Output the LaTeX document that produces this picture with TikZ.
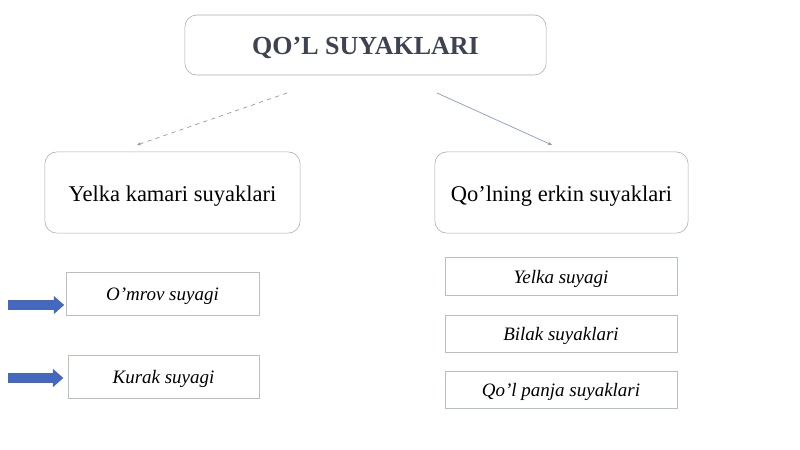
\documentclass[tikz,border=0pt]{standalone}
\usepackage{fontspec}
\setmainfont{Liberation Serif}
\usetikzlibrary{arrows.meta}
\definecolor{titlegray}{HTML}{3E4351}
\definecolor{boxline}{HTML}{ABABAB}
\definecolor{cellline}{HTML}{B7C3B9}
\definecolor{linkblue}{HTML}{8C98C4}
\definecolor{pointblue}{HTML}{4468C0}
\tikzset{
  group/.style={draw=boxline, rounded corners=0.3cm, inner sep=0pt, fill=white,
    text height=12.8pt, text depth=0pt},
  cell/.style={draw=cellline, inner sep=0pt, text height=10.4pt, text depth=0pt,
    font=\fontsize{13.5}{16}\selectfont\itshape},
  link/.style={draw=linkblue, line width=0.5pt, -{Stealth[length=3pt,width=2.5pt]}},
  pointer/.style={draw=pointblue, line width=0.26cm, -{Triangle[length=0.26cm,width=0.44cm]}}
}
\begin{document}
\begin{tikzpicture}[x=0.025cm, y=-0.025cm]
  \useasboundingbox (0,0) rectangle (800,449);
  \draw
    (365.5,45) node[group, minimum width=9.03cm, minimum height=1.5cm, text height=14.2pt,
      font=\fontsize{18.5}{22}\selectfont\bfseries, text=titlegray] (top){QO’L SUYAKLARI}
    (172.5,192.5) node[group, minimum width=6.38cm, minimum height=2.03cm,
      font=\fontsize{16}{19}\selectfont] (shoulder){Yelka kamari suyaklari}
    (561.5,192.5) node[group, minimum width=6.33cm, minimum height=2.03cm,
      font=\fontsize{16}{19}\selectfont] (free){Qo’lning erkin suyaklari}
    (162.5,293.5) node[cell, minimum width=4.83cm, minimum height=1.08cm] (collar){O’mrov suyagi}
    (163.5,376.5) node[cell, minimum width=4.78cm, minimum height=1.08cm] (blade){Kurak suyagi}
    (561,276) node[cell, minimum width=5.8cm, minimum height=0.95cm] (humerus){Yelka suyagi}
    (561,333.5) node[cell, minimum width=5.8cm, minimum height=0.93cm] (forearm){Bilak suyaklari}
    (561,389.5) node[cell, minimum width=5.8cm, minimum height=0.93cm] (hand){Qo’l panja suyaklari};
  \coordinate (ls) at (287,93);
  \coordinate (le) at (137,145);
  \coordinate (rs) at (437,93);
  \coordinate (re) at (552,145);
  \coordinate (p1) at (8,305);
  \coordinate (p2) at (8,378);
  \begin{scope}
    \draw[link, dashed] (ls) to (le);
    \draw[link] (rs) to (re);
    \draw[pointer, shorten >=1pt] (p1) to (collar.west |- p1);
    \draw[pointer, shorten >=3pt] (p2) to (blade.west |- p2);
  \end{scope}
\end{tikzpicture}
\end{document}
